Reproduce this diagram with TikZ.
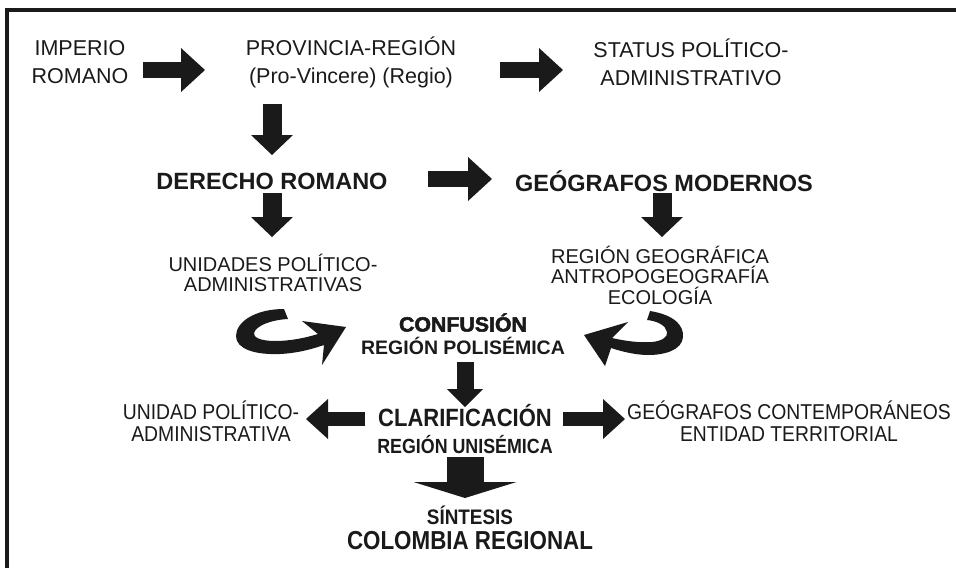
\documentclass[tikz,border=0pt]{standalone}
\usepackage{fontspec}
\setmainfont{Liberation Sans}
\newfontfamily\clarf{Liberation Sans}[FakeStretch=0.88]
\newfontfamily\unisf{Liberation Sans}[FakeStretch=0.87]
\newfontfamily\sintf{Liberation Sans}[FakeStretch=0.9]
\newfontfamily\colf{Liberation Sans}[FakeStretch=0.86]
\newfontfamily\narrf{Liberation Sans}[FakeStretch=0.9]
\newfontfamily\heavyf{Liberation Sans}[BoldFeatures={FakeBold=2.5,FakeStretch=1.04}]
\usetikzlibrary{arrows.meta,calc}
\definecolor{ink}{HTML}{1A1A1A}
\tikzset{
  txt/.style={font=\fontsize{21.5}{28}\selectfont},
  bld/.style={font=\bfseries\fontsize{23.5}{28}\selectfont},
  sml/.style={font=\fontsize{20}{20.5}\selectfont},
  harrow/.style={ink, line width=16pt, -{Triangle[width=44pt,length=24pt,line width=0pt]}},
  varrow/.style={ink, line width=19pt, -{Triangle[width=42pt,length=20pt,line width=0pt]}},
  marrow/.style={ink, line width=17pt, -{Triangle[width=36pt,length=18pt,line width=0pt]}},
  sarrow/.style={ink, line width=14pt, -{Triangle[width=40pt,length=22pt,line width=0pt]}},
  barrow/.style={ink, line width=37pt, -{Triangle[width=103pt,length=16pt,line width=0pt]}},
  curl/.style={fill=ink, draw=none}
}
\begin{document}
\begin{tikzpicture}[x=1pt,y=-1pt, every node/.style={inner sep=0pt, text=ink, align=center}]
\useasboundingbox (0,0) rectangle (956,568);
\draw[ink, line width=4pt] (7,568) -- (7,10) -- (956,10);

% text nodes
\node[txt] (imp) at (80,62) {IMPERIO\\ROMANO};
\node[txt] (prov) at (351,62) {PROVINCIA-REGIÓN\\(Pro-Vincere) (Regio)};
\node[txt] (stat) at (691,62) {STATUS POLÍTICO-\\ADMINISTRATIVO};
\node[bld] (der) at (272,181) {DERECHO ROMANO};
\node[bld] (geo) at (664,181) {GEÓGRAFOS MODERNOS};
\node[sml] (uni) at (273,273) {UNIDADES POLÍTICO-\\ADMINISTRATIVAS};
\node[sml] (reg) at (660,275) {REGIÓN GEOGRÁFICA\\ANTROPOGEOGRAFÍA\\ECOLOGÍA};
\node[font=\fontsize{20}{23}\selectfont] (conf) at (463,334)
  {{\heavyf\bfseries\fontsize{20.5}{23}\selectfont CONFUSIÓN}\\{\bfseries\fontsize{19.5}{23}\selectfont REGIÓN POLISÉMICA}};
\node[font=\fontsize{21}{27}\selectfont] (clar) at (465,429)
  {{\clarf\bfseries\fontsize{25}{27}\selectfont CLARIFICACIÓN}\\{\unisf\bfseries\fontsize{20.5}{27}\selectfont REGIÓN UNISÉMICA}};
\node[font=\narrf\fontsize{21.5}{22}\selectfont] (unid) at (211,421) {UNIDAD POLÍTICO-\\ADMINISTRATIVA};
\node[font=\narrf\fontsize{21.5}{22}\selectfont] (ent) at (789,421) {GEÓGRAFOS CONTEMPORÁNEOS\\ENTIDAD TERRITORIAL};
\node[font=\fontsize{21}{25}\selectfont] (sin) at (470,528)
  {{\sintf\bfseries\fontsize{21}{25}\selectfont SÍNTESIS}\\{\colf\bfseries\fontsize{26}{25}\selectfont COLOMBIA REGIONAL}};

% straight block arrows
\draw[harrow] ($(imp)+(63,8)$) -- ($(prov)+(-146,8)$);
\draw[harrow] ($(prov)+(149,8)$) -- ($(stat)+(-128,8)$);
\draw[varrow] ($(prov)+(-79,42)$) -- ($(der)+(0,-26)$);
\draw[harrow] ($(der)+(156,-2)$) -- ($(geo)+(-172,-2)$);
\draw[varrow] ($(der)+(0,12)$) -- ($(uni)+(-1,-36)$);
\draw[varrow] ($(geo)+(-2,12)$) -- ($(reg)+(2,-38)$);
\draw[marrow] ($(conf)+(2,28)$) -- ($(clar)+(0,-22)$);
\draw[sarrow] ($(clar)+(-100,-10)$) -- ($(unid)+(95,-2)$);
\draw[sarrow] ($(clar)+(98,-10)$) -- ($(ent)+(-164,-2)$);
\draw[barrow] ($(clar)+(0,28)$) -- ($(sin)+(-5,-30)$);

% curled arrows
\fill[curl] (284,309) .. controls (255,309) and (236,322) .. (236,336)
  .. controls (236,349) and (255,355) .. (280,354)
  .. controls (300,353) and (315,348) .. (324,345)
  -- (322,365) -- (346,327) -- (302,321) -- (318,334)
  .. controls (305,338) and (290,341) .. (275,341)
  .. controls (260,341) and (253,337) .. (254,333)
  .. controls (256,326) and (270,320) .. (288,319) -- cycle;
\fill[curl] (650,311) .. controls (675,315) and (684,326) .. (683,337)
  .. controls (682,350) and (665,355) .. (648,355)
  .. controls (635,355) and (620,351) .. (611,348)
  -- (605,366) -- (584,335) -- (628,322) -- (612,338)
  .. controls (625,341) and (640,343) .. (652,342)
  .. controls (662,341) and (668,337) .. (667,332)
  .. controls (666,326) and (658,321) .. (647,320) -- cycle;
\end{tikzpicture}
\end{document}
